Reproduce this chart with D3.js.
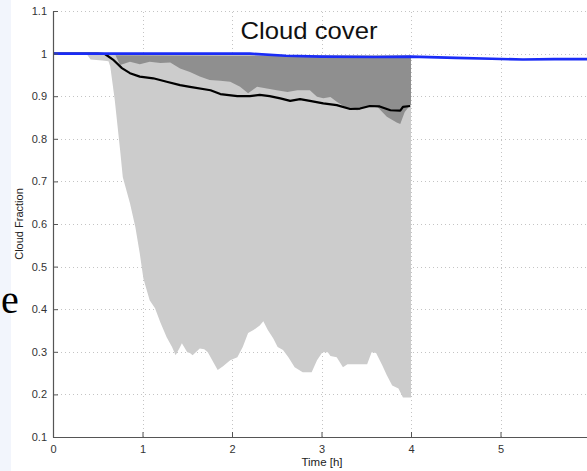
<!DOCTYPE html>
<html>
<head>
<meta charset="utf-8">
<script src="https://cdn.jsdelivr.net/npm/d3@7/dist/d3.min.js"></script>
<style>
  html, body { margin: 0; padding: 0; background: #ffffff; }
  svg { display: block; }
</style>
</head>
<body>
<svg id="chart" width="587" height="471"></svg>
<script>
// Ensemble cloud fraction over time: spread of members, inner band, mean and reference run
const xTicks = [0, 1, 2, 3, 4, 5];
const xGrid = [1, 2, 3, 4, 5, 6];
const yTicks = [0.1, 0.2, 0.3, 0.4, 0.5, 0.6, 0.7, 0.8, 0.9, 1, 1.1];
const yTickLabels = ["0.1", "0.2", "0.3", "0.4", "0.5", "0.6", "0.7", "0.8", "0.9", "1", "1.1"];

// Upper envelope of all members
const maxTime = [0.38, 1.0, 2.0, 3.0, 4.0];
const maxFrac = [0.999, 0.998, 0.997, 0.996, 0.996];

// Lower envelope of all members
const minTime = [0.38, 0.42, 0.55, 0.62, 0.64, 0.69, 0.75, 0.78, 0.86, 0.92, 0.97, 1.01, 1.08, 1.14, 1.20,
  1.27, 1.33, 1.37, 1.42, 1.44, 1.50, 1.53, 1.56, 1.64, 1.69, 1.73, 1.79, 1.84, 1.90, 1.98, 2.06, 2.12,
  2.18, 2.24, 2.31, 2.35, 2.40, 2.46, 2.51, 2.57, 2.63, 2.70, 2.79, 2.89, 2.95, 3.01, 3.07, 3.10, 3.17,
  3.24, 3.29, 3.51, 3.56, 3.61, 3.68, 3.73, 3.79, 3.86, 3.91, 4.0];
const minFrac = [0.998, 0.986, 0.984, 0.982, 0.970, 0.891, 0.773, 0.710, 0.649, 0.593, 0.530, 0.472, 0.421,
  0.402, 0.369, 0.334, 0.311, 0.292, 0.311, 0.320, 0.299, 0.297, 0.292, 0.308, 0.306, 0.299, 0.276, 0.257,
  0.266, 0.280, 0.287, 0.311, 0.344, 0.351, 0.362, 0.372, 0.351, 0.332, 0.311, 0.304, 0.287, 0.264, 0.252,
  0.252, 0.280, 0.299, 0.299, 0.290, 0.287, 0.264, 0.271, 0.271, 0.299, 0.297, 0.268, 0.245, 0.221, 0.214,
  0.193, 0.193];

// Inner band (upper and lower bound)
const bandTime = [0.70, 0.75, 0.86, 0.97, 1.08, 1.20, 1.31, 1.42, 1.53, 1.64, 1.75, 1.87, 1.98, 2.09, 2.18,
  2.28, 2.39, 2.50, 2.62, 2.73, 2.87, 2.95, 3.02, 3.10, 3.17, 3.29, 3.40, 3.51, 3.62, 3.73, 3.84, 3.88,
  3.93, 3.99, 4.0];
const bandLow = [0.995, 0.973, 0.981, 0.975, 0.981, 0.978, 0.979, 0.965, 0.957, 0.946, 0.938, 0.936, 0.934,
  0.922, 0.907, 0.922, 0.918, 0.914, 0.910, 0.914, 0.914, 0.899, 0.895, 0.898, 0.887, 0.871, 0.867, 0.875,
  0.876, 0.852, 0.838, 0.835, 0.863, 0.879, 0.880];
const bandHighTime = [0.70, 2.0, 4.0];
const bandHigh = [0.996, 0.995, 0.995];

// Ensemble mean
const meanTime = [0, 0.5, 0.58, 0.67, 0.77, 0.86, 0.97, 1.12, 1.27, 1.42, 1.53, 1.76, 1.87, 2.06, 2.20, 2.31,
  2.42, 2.54, 2.65, 2.76, 2.87, 3.02, 3.17, 3.32, 3.43, 3.54, 3.65, 3.77, 3.88, 3.91, 3.99];
const meanFrac = [1.0, 1.0, 0.999, 0.986, 0.966, 0.954, 0.946, 0.942, 0.934, 0.926, 0.922, 0.914, 0.905,
  0.900, 0.900, 0.903, 0.900, 0.895, 0.889, 0.893, 0.889, 0.883, 0.879, 0.870, 0.871, 0.877, 0.876, 0.867,
  0.866, 0.875, 0.877];

// Reference run
const refTime = [0, 1.0, 2.2, 2.6, 3.0, 3.6, 4.0, 4.5, 4.9, 5.25, 5.6, 6.0];
const refFrac = [1.0, 1.0, 1.0, 0.995, 0.993, 0.992, 0.993, 0.990, 0.988, 0.986, 0.987, 0.987];

const zip = (ts, vs) => ts.map((t, i) => [t, vs[i]]);

const SANS = "'Liberation Sans', Arial, Helvetica, sans-serif";
const SERIF = "'Liberation Serif', 'Times New Roman', serif";

const svg = d3.select("#chart");
const W = 587, H = 471;

// slide backdrop strip on the left edge
svg.append("rect").attr("x", 0).attr("y", 0).attr("width", 11).attr("height", H).attr("fill", "#f2f5fc");

const x = d3.scaleLinear().domain([0, 6]).range([53, 590]);
const y = d3.scaleLinear().domain([0.1, 1.1]).range([437, 11]);

const clipId = "plotClip";
svg.append("defs").append("clipPath").attr("id", clipId)
  .append("rect").attr("x", 53).attr("y", 0).attr("width", 540).attr("height", 437);

// dotted grid
const grid = svg.append("g").attr("stroke", "#c4c4c4").attr("stroke-width", 1)
  .attr("stroke-dasharray", "1,3");
yTicks.slice(1).forEach(v => {
  grid.append("line").attr("x1", x(0)).attr("x2", x(6)).attr("y1", Math.round(y(v)) + 0.5).attr("y2", Math.round(y(v)) + 0.5);
});
xGrid.forEach(t => {
  grid.append("line").attr("x1", Math.round(x(t)) + 0.5).attr("x2", Math.round(x(t)) + 0.5).attr("y1", y(0.1)).attr("y2", y(1.1));
});

const line = d3.line().x(d => x(d[0])).y(d => y(d[1]));

// closed region between an upper and a lower curve
function band(upper, lower) {
  const pts = upper.concat(lower.slice().reverse());
  return line(pts) + "Z";
}

const plot = svg.append("g").attr("clip-path", `url(#${clipId})`);

plot.append("path")
  .attr("d", band(zip(maxTime, maxFrac), zip(minTime, minFrac)))
  .attr("fill", "#cccccc");

plot.append("path")
  .attr("d", band(zip(bandHighTime, bandHigh), zip(bandTime, bandLow)))
  .attr("fill", "#8f8f8f");

plot.append("path")
  .datum(zip(meanTime, meanFrac))
  .attr("d", line)
  .attr("fill", "none").attr("stroke", "#000").attr("stroke-width", 2.2)
  .attr("stroke-linejoin", "round");

plot.append("path")
  .datum(zip(refTime, refFrac))
  .attr("d", line)
  .attr("fill", "none").attr("stroke", "#1a2cf6").attr("stroke-width", 2.6)
  .attr("stroke-linejoin", "round");

// axes
const yAxis = d3.axisLeft(y).tickValues(yTicks).tickSizeInner(-5).tickSizeOuter(0)
  .tickPadding(6).tickFormat((d, i) => yTickLabels[i]);
const gy = svg.append("g").attr("transform", "translate(53,0)").call(yAxis);

const xAxis = d3.axisBottom(x).tickValues(xTicks).tickSizeInner(-5).tickSizeOuter(0)
  .tickPadding(8).tickFormat(d3.format("d"));
const gx = svg.append("g").attr("transform", "translate(0,437)").call(xAxis);
gx.select(".domain").attr("d", `M${x(0)},0.5H${W}`);

[gy, gx].forEach(g => {
  g.select(".domain").attr("stroke", "#555").attr("stroke-width", 1.2);
  g.selectAll(".tick line").attr("stroke", "#555");
  g.selectAll(".tick text").attr("fill", "#333").attr("font-size", 11)
    .style("font-family", SANS);
});

// titles
svg.append("text").attr("x", 309).attr("y", 39).attr("text-anchor", "middle")
  .style("font-family", SANS).attr("font-size", 24)
  .attr("textLength", 137).attr("lengthAdjust", "spacingAndGlyphs")
  .attr("fill", "#111").text("Cloud cover");

svg.append("text").attr("x", 322).attr("y", 466).attr("text-anchor", "middle")
  .style("font-family", SANS).attr("font-size", 11.5).attr("fill", "#222").text("Time [h]");

svg.append("text").attr("transform", "translate(23,224) rotate(-90)").attr("text-anchor", "middle")
  .style("font-family", SANS).attr("font-size", 11).attr("fill", "#222").text("Cloud Fraction");

// fragment of the surrounding slide text
svg.append("text").attr("x", 1).attr("y", 313).attr("text-anchor", "start")
  .style("font-family", SERIF).attr("font-size", 40).attr("fill", "#000").text("e");
</script>
</body>
</html>
